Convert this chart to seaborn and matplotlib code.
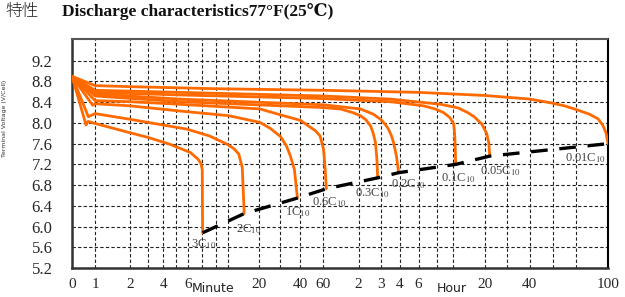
import numpy as np
import pandas as pd
import seaborn as sns
import matplotlib.pyplot as plt

# discharge curves: time in minutes, terminal voltage in V
rates = ["3C", "2C", "1C", "0.6C", "0.3C", "0.2C", "0.1C", "0.05C", "0.01C"]

t_3c = [0, 0.61, 0.70, 1, 2, 3, 4.5, 6.3, 7.4, 7.8, 8.0, 8.05]
v_3c = [8.90, 7.96, 8.03, 7.99, 7.81, 7.72, 7.59, 7.43, 7.30, 7.22, 7.10, 5.88]

t_2c = [0, 0.71, 1, 2, 5.9, 9, 11.8, 13.5, 14.7, 15.6, 16.1]
v_2c = [8.90, 8.12, 8.18, 8.07, 7.88, 7.75, 7.59, 7.50, 7.40, 7.14, 6.25]

t_1c = [0, 0.9, 1, 2, 5.3, 12.1, 20.3, 25, 30, 33, 35, 37, 38.5]
v_1c = [8.90, 8.34, 8.37, 8.33, 8.23, 8.14, 8.01, 7.90, 7.74, 7.56, 7.36, 7.10, 6.55]

t_06c = [0, 1, 2, 5.3, 20.3, 31.5, 40, 47, 53, 57, 60, 62, 65]
v_06c = [8.90, 8.43, 8.41, 8.36, 8.27, 8.14, 8.05, 7.94, 7.85, 7.75, 7.50, 7.25, 6.73]

t_03c = [0, 1, 5.3, 57, 89, 110, 125, 140, 153, 160, 166, 170, 172]
v_03c = [8.90, 8.52, 8.41, 8.30, 8.27, 8.20, 8.14, 8.06, 7.94, 7.80, 7.62, 7.30, 6.94]

t_02c = [0, 1, 5.3, 60, 125, 160, 180, 195, 205, 215, 221, 230, 237]
v_02c = [8.90, 8.56, 8.46, 8.35, 8.27, 8.17, 8.07, 7.97, 7.88, 7.74, 7.62, 7.36, 7.04]

t_01c = [0, 1, 5.3, 60, 211, 393, 470, 532, 580, 619, 635, 645, 656]
v_01c = [8.90, 8.59, 8.54, 8.47, 8.41, 8.33, 8.27, 8.20, 8.10, 7.98, 7.80, 7.60, 7.20]

t_005c = [0, 1, 5.3, 60, 211, 510, 700, 881, 1000, 1144, 1250, 1309, 1336]
v_005c = [8.90, 8.63, 8.59, 8.52, 8.46, 8.36, 8.29, 8.20, 8.12, 7.98, 7.80, 7.62, 7.36]

t_001c = [0, 1, 2, 10, 60, 360, 1200, 2400, 3600, 4200, 4800, 5300, 5625, 5800, 5925, 6000]
v_001c = [8.90, 8.72, 8.70, 8.66, 8.63, 8.59, 8.53, 8.46, 8.38, 8.33, 8.26, 8.17, 8.08,
          7.96, 7.81, 7.60]

times = [t_3c, t_2c, t_1c, t_06c, t_03c, t_02c, t_01c, t_005c, t_001c]
volts = [v_3c, v_2c, v_1c, v_06c, v_03c, v_02c, v_01c, v_005c, v_001c]

# the time axis of the original is hand drawn: minutes -> axis position
scale_min = [0, 1, 2, 3, 4, 5, 6, 8, 10, 12, 20, 30, 40, 60, 120, 180, 240, 360,
             480, 600, 1200, 1800, 2400, 3600, 4800, 6000]
scale_pos = [0, 23, 58, 76, 91, 104, 116, 130, 144, 156, 187, 208, 228, 251, 286,
             308, 327, 346, 364, 380, 412, 434, 457, 480, 503, 535]

tick_min = [0, 1, 2, 4, 6, 20, 40, 60, 120, 180, 240, 360, 1200, 2400, 6000]
tick_lbl = ["0", "1", "2", "4", "6", "20", "40", "60", "2", "3", "4", "6", "20", "40", "100"]
y_ticks = [5.2, 5.6, 6.0, 6.4, 6.8, 7.2, 7.6, 8.0, 8.4, 8.8, 9.2]

# label offsets (pixels) for rate labels under curve ends
lbl_dx = [1, 4, 0, 3, -5, 10, 3, 11, -23]
lbl_dy = [-11, -15, -14, -13, -15, -11, -14, -15, -14]

rows = []
for r, ts, vs in zip(rates, times, volts):
    for t, v in zip(ts, vs):
        rows.append((r, t, v))
df = pd.DataFrame(rows, columns=["Rate", "Minutes", "Voltage"])

sns.set_theme(style="white")
plt.rcParams['font.family'] = ['Liberation Serif', 'DejaVu Serif']
plt.rcParams['mathtext.fontset'] = 'stix'

fig = plt.figure(figsize=(6.25, 2.97), dpi=100)
ax = fig.add_axes([0.1152, 0.0976, 0.8576, 0.7711])

def fwd(x):
    return np.interp(x, scale_min, scale_pos)

def inv(x):
    return np.interp(x, scale_pos, scale_min)

ax.set_xscale('function', functions=(fwd, inv))

orange = "#ff6a00"
sns.lineplot(data=df, x="Minutes", y="Voltage", hue="Rate", units="Rate",
             estimator=None, sort=False, palette=[orange] * len(rates),
             linewidth=2.0, legend=False, ax=ax, zorder=3)

# cut-off line through the curve ends
end_t = [ts[-1] for ts in times]
end_v = [vs[-1] for vs in volts]
ax.plot(end_t, end_v, color="black", lw=2.4, dashes=(5, 3.5), zorder=4,
        solid_capstyle='butt')

for r, t, v, dx, dy in zip(rates, end_t, end_v, lbl_dx, lbl_dy):
    ax.annotate(r + "$_{10}$", xy=(t, v), xytext=(dx, dy), textcoords='offset pixels',
                ha='center', va='center', fontsize=9, color="#444444")

ax.set_xlim(0, 6000)
ax.set_ylim(5.2, 9.62)
ax.set_xticks(tick_min)
ax.set_xticklabels(tick_lbl)
ax.set_xticks([m for m in scale_min if m not in tick_min], minor=True)
ax.set_yticks(y_ticks)
ax.set_yticklabels([f"{y:.1f}" for y in y_ticks])
ax.tick_params(axis='x', which='both', length=0, pad=7, labelsize=11)
ax.tick_params(axis='y', length=0, pad=14, labelsize=12)

ax.grid(True, which='both', color="#222222", linestyle=(0, (3, 2)), linewidth=0.8)
ax.set_axisbelow(True)

for s in ['left', 'bottom']:
    ax.spines[s].set_color("#333333")
    ax.spines[s].set_linewidth(1.8)
ax.spines['right'].set_color("black")
ax.spines['right'].set_linewidth(1.5)
ax.spines['top'].set_color("#555555")
ax.spines['top'].set_linewidth(1.5)
ax.spines['top'].set_linestyle((0, (2, 1)))

ax.set_xlabel("")
ax.set_ylabel("")

sans = ['Liberation Sans Narrow', 'DejaVu Sans']
ax.text(9.6, -0.09, "Minute", transform=ax.get_xaxis_transform(), ha='center',
        va='center', fontsize=9, family=sans, color="#222222")
ax.text(590, -0.09, "Hour", transform=ax.get_xaxis_transform(), ha='center',
        va='center', fontsize=9, family=sans, color="#222222")

fig.text(0.008, 0.6, "Terminal Voltage (V/Cell)", rotation=90, ha='center',
         va='center', fontsize=4.5, family=sans, color="#333333")

fig.text(0.008, 1 - 16 / 297, "特性", ha='left', va='baseline', fontsize=12,
         family=['Noto Sans CJK JP', 'DejaVu Sans'], fontweight='light', color="#222222")
fig.text(0.099, 1 - 16 / 297, "Discharge characteristics77°F(25℃)", ha='left',
         va='baseline', fontsize=12.5, fontweight='bold',
         family=['Liberation Serif', 'DejaVu Serif'], color="#111111")

fig.savefig("out.png", dpi=100)
